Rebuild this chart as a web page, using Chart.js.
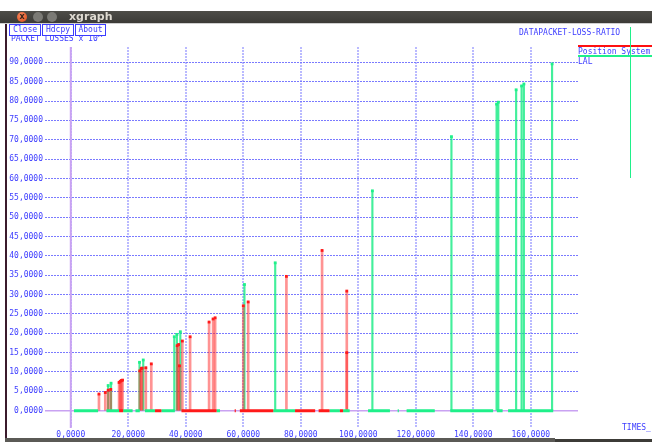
<!DOCTYPE html>
<html>
<head>
<meta charset="utf-8">
<script src="https://cdn.jsdelivr.net/npm/chart.js@4.4.0/dist/chart.umd.min.js"></script>
<style>
  html, body { margin: 0; padding: 0; background: #fff; }
  #frame { position: relative; width: 652px; height: 442px; overflow: hidden; background: #fff;
           font-family: "DejaVu Sans Mono", "Liberation Mono", monospace; color: #3c3cff; }
  #myChart { position: absolute; left: 0; top: 0; }
  .abs { position: absolute; white-space: nowrap; }
  .titlebar { left: 0; top: 11px; width: 652px; height: 12px; background: linear-gradient(#4e4d48, #3c3b37); }
  .dot { top: 12px; width: 10px; height: 10px; border-radius: 50%; background: #7b7a75; }
  .dot.close { background: radial-gradient(circle at 40% 35%, #f58a62, #dd4814); color: #3c2418;
               font: bold 8px/10px "DejaVu Sans", sans-serif; text-align: center; }
  .apptitle { left: 69px; top: 10px; font: bold 11px/13px "DejaVu Sans", sans-serif; color: #dfdbd2; }
  .btn { top: 24px; height: 10px; border: 1px solid #3c3cff; background: #fff; font-size: 8px;
         line-height: 10px; text-align: center; z-index: 2; }
  .small { font-size: 8px; line-height: 9px; }
</style>
</head>
<body>
<div id="frame">
  <canvas id="myChart" width="652" height="442"></canvas>

  <div class="abs titlebar"></div>
  <div class="abs dot close" style="left:17px">x</div>
  <div class="abs dot" style="left:33px"></div>
  <div class="abs dot" style="left:47px"></div>
  <div class="abs apptitle">xgraph</div>
  <div class="abs" style="left:0;top:23px;width:652px;height:1px;background:#cfcfcf"></div>
  <div class="abs" style="left:5px;top:24px;width:2px;height:416px;background:#3b1b2c"></div>
  <div class="abs" style="left:5px;top:438px;width:550px;height:4px;background:#5b5a56"></div>
  <div class="abs" style="left:555px;top:439px;width:97px;height:3px;background:#3c3b37"></div>

  <div class="abs small" style="left:11px;top:34px">PACKET LOSSES x 10^</div>
  <div class="abs btn" style="left:9px;width:30px">Close</div>
  <div class="abs btn" style="left:42px;width:30px">Hdcpy</div>
  <div class="abs btn" style="left:75px;width:29px">About</div>

  <div class="abs small" style="left:519px;top:28px">DATAPACKET-LOSS-RATIO</div>
  <div class="abs" style="left:578px;top:45px;width:74px;height:2px;background:#ff1010"></div>
  <div class="abs small" style="left:578px;top:47px">Position_System</div>
  <div class="abs" style="left:578px;top:55px;width:74px;height:2px;background:#1ff08a"></div>
  <div class="abs small" style="left:578px;top:57px">LAL</div>
  <div class="abs" style="left:630px;top:27px;width:1px;height:151px;background:#1ff08a"></div>
  <div class="abs small" style="left:622px;top:423px">TIMES_</div>
</div>

<script>
// time (x) and packet loss (y)
const redTimes  = [9.8, 12.0, 13.0, 13.9, 16.8, 17.2, 17.6, 18.0, 24.0, 24.5, 24.8, 26.1, 28.0,
                   37.0, 37.5, 37.8, 38.8, 41.5, 48.1, 49.5, 50.2, 60.0, 61.7, 75.0, 87.4, 96.0, 96.0];
const redLoss   = [4.3, 4.7, 5.3, 5.5, 7.3, 7.6, 7.8, 7.9, 10.3, 10.9, 11.0, 11.1, 12.1,
                   16.8, 17.1, 11.6, 18.0, 19.1, 22.9, 23.7, 24.0, 27.1, 28.1, 34.7, 41.4, 30.9, 15.0];

const greenTimes = [13.0, 14.0, 23.9, 25.2, 36.0, 36.9, 38.1, 60.4, 71.1, 104.9, 132.4,
                    148.1, 148.7, 154.9, 156.8, 157.6, 167.4];
const greenLoss  = [6.5, 7.1, 12.5, 13.1, 19.1, 19.7, 20.4, 32.6, 38.2, 56.8, 70.8,
                    79.2, 79.7, 82.9, 83.9, 84.4, 89.6];

// stretches of time where the loss stays at zero
const redZeroRuns = [[16.8, 18.2], [29.3, 31.5], [38.5, 50.7], [57.0, 57.4], [58.8, 70.4],
                     [78.0, 85.0], [86.2, 90.0], [93.6, 94.7]];
const greenZeroRuns = [[1.1, 9.5], [12.4, 16.8], [18.2, 21.5], [22.5, 24.0], [25.8, 29.3],
                       [31.5, 36.2], [50.7, 51.9], [70.4, 78.0], [90.0, 93.6], [94.7, 97.0],
                       [103.4, 111.0], [113.7, 114.1], [116.8, 126.6], [132.0, 146.9],
                       [148.2, 150.2], [152.1, 167.8]];

const xTicks = [0, 20, 40, 60, 80, 100, 120, 140, 160];
const yTicks = [0, 5, 10, 15, 20, 25, 30, 35, 40, 45, 50, 55, 60, 65, 70, 75, 80, 85, 90];

const RED = '#ff1a1a', GREEN = '#1ff08a', BLUE = '#3c3cff';

function points(xs, ys) {
  return xs.map((x, i) => ({ x: x, y: ys[i] }));
}
function runs(list) {
  const out = [];
  list.forEach(r => {
    out.push({ x: r[0], y: 0 }, { x: r[1], y: 0 }, { x: r[1], y: null });
  });
  return out;
}
function fmt(v) {
  return v.toFixed(4).replace('.', ',');
}

// purple zero axes like xgraph
const zeroAxes = {
  id: 'zeroAxes',
  beforeDatasetsDraw(chart) {
    const { ctx, chartArea: a, scales: { x, y } } = chart;
    const x0 = x.getPixelForValue(0), y0 = y.getPixelForValue(0);
    ctx.save();
    ctx.strokeStyle = '#c9a2f2';
    ctx.lineWidth = 2;
    ctx.beginPath(); ctx.moveTo(x0, a.top); ctx.lineTo(x0, a.bottom); ctx.stroke();
    ctx.lineWidth = 1.5;
    ctx.beginPath(); ctx.moveTo(a.left, y0); ctx.lineTo(a.right, y0); ctx.stroke();
    ctx.restore();
  }
};

const tickFont = { family: '"DejaVu Sans Mono", monospace', size: 8 };

new Chart(document.getElementById('myChart'), {
  type: 'bar',
  data: {
    datasets: [
      { type: 'scatter', label: 'Position_System', data: points(redTimes, redLoss), order: 0,
        pointStyle: 'rect', pointRadius: 2, backgroundColor: RED, borderWidth: 0 },
      { type: 'scatter', label: 'LAL', data: points(greenTimes, greenLoss), order: 1,
        pointStyle: 'rect', pointRadius: 2, backgroundColor: GREEN, borderWidth: 0 },
      { type: 'line', data: runs(redZeroRuns), order: 2, borderColor: RED, borderWidth: 3,
        pointRadius: 0, spanGaps: false, borderCapStyle: 'butt' },
      { type: 'line', data: runs(greenZeroRuns), order: 3, borderColor: GREEN, borderWidth: 3,
        pointRadius: 0, spanGaps: false, borderCapStyle: 'butt' },
      { type: 'bar', data: points(redTimes, redLoss), order: 4, grouped: false,
        barThickness: 2, backgroundColor: 'rgba(255,40,40,0.5)', borderWidth: 0 },
      { type: 'bar', data: points(greenTimes, greenLoss), order: 5, grouped: false,
        barThickness: 1.5, backgroundColor: 'rgba(20,235,130,0.8)', borderWidth: 0 }
    ]
  },
  options: {
    responsive: false,
    animation: false,
    devicePixelRatio: 1,
    layout: { padding: { top: 47, right: 74, bottom: 0, left: 0 } },
    plugins: { legend: { display: false }, tooltip: { enabled: false } },
    scales: {
      x: {
        type: 'linear', min: -8.97, max: 176.42, offset: false,
        afterBuildTicks: s => { s.ticks = xTicks.map(v => ({ value: v })); },
        afterFit: s => { s.height = 14; },
        grid: { color: 'rgba(140,140,255,0.6)', lineWidth: 2, drawTicks: false, offset: false },
        border: { display: false, dash: [2, 1] },
        ticks: { font: tickFont, color: BLUE, padding: 2, maxRotation: 0, autoSkip: false,
                 callback: v => fmt(v) }
      },
      y: {
        type: 'linear', min: -4.47, max: 93.96,
        afterBuildTicks: s => { s.ticks = yTicks.map(v => ({ value: v })); },
        afterFit: s => { s.width = 45; },
        grid: { color: '#7a7aff', lineWidth: 1, drawTicks: false },
        border: { display: false, dash: [2, 1] },
        ticks: { font: tickFont, color: BLUE, padding: 2, autoSkip: false,
                 callback: v => fmt(v) }
      }
    }
  },
  plugins: [zeroAxes]
});
</script>
</body>
</html>
